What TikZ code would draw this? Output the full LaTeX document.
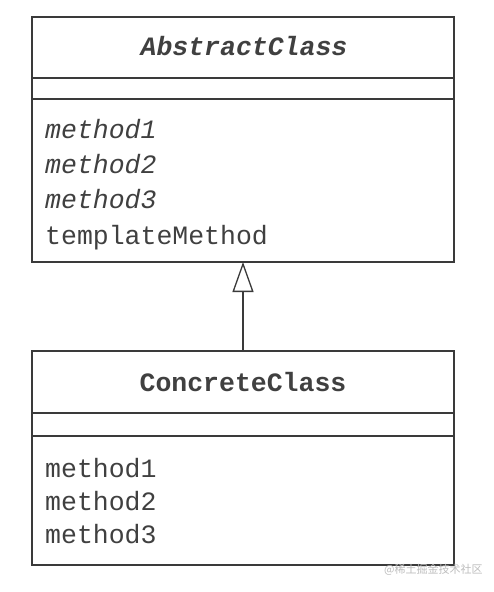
\documentclass[tikz,border=0pt]{standalone}
\usepackage{fontspec}
\setmonofont{Liberation Mono}
\newfontfamily\cjkfont{Noto Sans CJK SC}
\usetikzlibrary{arrows.meta}
\definecolor{linec}{HTML}{3A3A3A}
\definecolor{textc}{HTML}{404040}
\definecolor{wmark}{HTML}{BDBDBD}
\tikzset{
  x=1pt, y=-1pt,
  comp/.style={draw=linec, line width=1.3pt, minimum width=422pt, inner sep=0pt, outer sep=0pt},
  titletext/.style={font=\fontsize{26.5}{26.5}\selectfont\ttfamily\bfseries, text=textc, anchor=base},
  methtext/.style={font=\fontsize{26.5}{26.5}\selectfont\ttfamily, text=textc, anchor=base west, inner sep=0pt},
  inherit/.style={draw=linec, line width=1.3pt, -{Triangle[open, length=30pt, width=21pt, line width=1.3pt]}}
}
\begin{document}
\begin{tikzpicture}
\useasboundingbox (0,0) rectangle (494,592);
\fill[white] (0,0) rectangle (494,592);
% AbstractClass
\node[comp, minimum height=61pt] (atitle) at (243,47.5) {};
\node[comp, minimum height=21pt] (aattr) at (243,88.5) {};
\node[comp, minimum height=163pt] (ameth) at (243,180.5) {};
\node[titletext] (aname) at (244,55) {\itshape AbstractClass};
\node[methtext] (am1) at (45,138) {\itshape method1};
\node[methtext] (am2) at (45,173) {\itshape method2};
\node[methtext] (am3) at (45,208) {\itshape method3};
\node[methtext] (am4) at (45,244) {templateMethod};
% ConcreteClass
\node[comp, minimum height=62pt] (ctitle) at (243,382) {};
\node[comp, minimum height=23pt] (cattr) at (243,424.5) {};
\node[comp, minimum height=129pt] (cmeth) at (243,500.5) {};
\node[titletext] (cname) at (243,391) {ConcreteClass};
\node[methtext] (cm1) at (45,477) {method1};
\node[methtext] (cm2) at (45,510) {method2};
\node[methtext] (cm3) at (45,543) {method3};
% inheritance
\draw[inherit] (ctitle.north) -- (ameth.south);
% watermark
\node[font=\cjkfont\fontsize{11}{11}\selectfont, text=wmark, anchor=west, inner sep=0pt] (wm) at (384,570) {@稀土掘金技术社区};
\end{tikzpicture}
\end{document}
